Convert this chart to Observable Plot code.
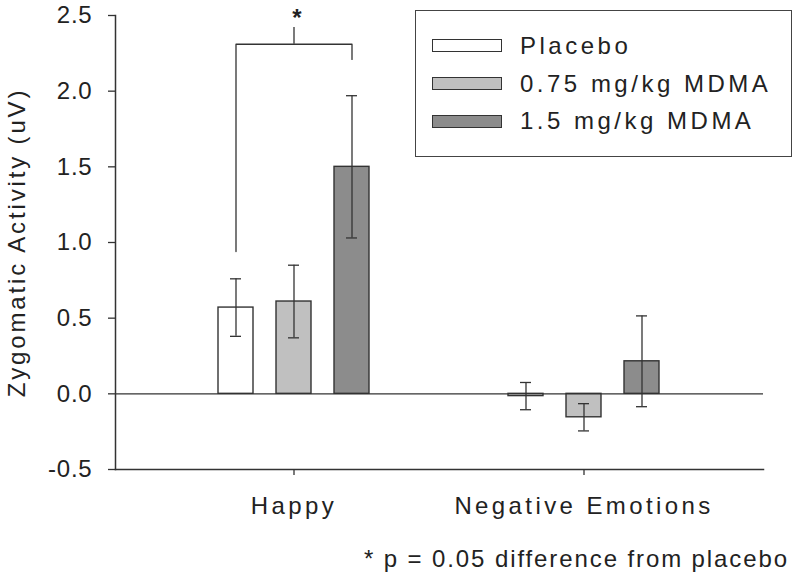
<!DOCTYPE html>
<html>
<head>
<meta charset="utf-8">
<script src="https://cdn.jsdelivr.net/npm/d3@7"></script>
<script src="https://cdn.jsdelivr.net/npm/@observablehq/plot@0.6"></script>
<style>
  body { margin: 0; background: #fff; }
  #wrap { position: relative; width: 800px; height: 584px; font-family: "Liberation Sans", Arial, sans-serif; color: #222; }
  #chart svg { display: block; }
  #chart g[aria-label="y-axis tick label"] text { letter-spacing: 0.8px; }
  #chart g[aria-label="x-axis tick label"] text { letter-spacing: 3.4px; }
  #chart g[aria-label="y-axis label"] text { letter-spacing: 2.85px; }
  #legend { position: absolute; left: 415px; top: 10px; width: 377px; height: 147px; box-sizing: border-box; border: 1.5px solid #444; background: #fff; }
  .row { position: absolute; left: 0; height: 30px; display: flex; align-items: center; font-size: 24px; letter-spacing: 3.5px; }
  .sw { width: 70px; height: 13px; box-sizing: border-box; border: 1.3px solid #333; margin-left: 16px; margin-right: 18px; }
  #caption { position: absolute; right: 11px; top: 547px; font-size: 24px; line-height: 24px; letter-spacing: 1.9px; white-space: nowrap; }
</style>
</head>
<body>
<div id="wrap">
  <div id="chart"></div>
  <div id="legend"></div>
  <div id="caption"></div>
</div>
<script>
// ---- data ----
const groups = ["Happy", "Negative Emotions"];
const series = ["Placebo", "0.75 mg/kg MDMA", "1.5 mg/kg MDMA"];
const seriesColors = ["#ffffff", "#c0c0c0", "#8c8c8c"];
const happyMeans = [0.57, 0.61, 1.50];
const happyErrors = [0.19, 0.24, 0.47];
const negativeMeans = [-0.015, -0.155, 0.215];
const negativeErrors = [0.09, 0.09, 0.30];
const yTicks = [-0.5, 0.0, 0.5, 1.0, 1.5, 2.0, 2.5];
const yLabel = "Zygomatic Activity (uV)";
// significance bracket (Happy: Placebo vs 1.5 mg/kg)
const bracketLevel = 2.31;
const bracketLeftEnd = 0.94;
const bracketRightEnd = 2.21;
const bracketTickTop = 2.42;
const starLevel = 2.48;
const captionText = "* p = 0.05 difference from placebo";

// ---- build table ----
const meansByGroup = [happyMeans, negativeMeans];
const errorsByGroup = [happyErrors, negativeErrors];
const keyOf = (g, s) => g + " | " + s;
const rows = groups.flatMap((g, gi) => series.map((s, si) => ({
  group: g, series: s, key: keyOf(g, s),
  mean: meansByGroup[gi][si], err: errorsByGroup[gi][si]
})));
// x domain: the bars of each group, with two empty slots between groups
const xDomain = groups.flatMap((g, gi) => [
  ...(gi ? ["(gap a)", "(gap b)"] : []),
  ...series.map(s => keyOf(g, s))
]);
const groupTicks = groups.map(g => keyOf(g, series[1]));
const groupOfKey = new Map(groupTicks.map((k, i) => [k, groups[i]]));

const bracketPath = [
  {x: keyOf(groups[0], series[0]), y: bracketLeftEnd},
  {x: keyOf(groups[0], series[0]), y: bracketLevel},
  {x: keyOf(groups[0], series[2]), y: bracketLevel},
  {x: keyOf(groups[0], series[2]), y: bracketRightEnd}
];
const bracketMid = [{x: keyOf(groups[0], series[1]), y1: bracketLevel, y2: bracketTickTop, star: starLevel}];

const ink = "#333";

const chart = Plot.plot({
  width: 800,
  height: 530,
  marginTop: 15,
  marginBottom: 61,
  marginLeft: 115,
  marginRight: 37,
  style: {fontFamily: "'Liberation Sans', Arial, sans-serif", fontSize: "24px", color: "#222", background: "#fff", overflow: "visible"},
  x: {domain: xDomain, paddingInner: 0.39, paddingOuter: 1.6966, align: 0.5, axis: null},
  y: {domain: [-0.5, 2.5], axis: null},
  color: {domain: series, range: seriesColors},
  marks: [
    Plot.frame({anchor: "left", stroke: ink, strokeWidth: 1.5}),
    Plot.frame({anchor: "bottom", stroke: ink, strokeWidth: 1.5}),
    Plot.axisY({
      ticks: yTicks, tickSize: 7, tickPadding: 16, tickFormat: d => d.toFixed(1),
      stroke: ink, strokeWidth: 1.3, fontSize: 24,
      label: yLabel, labelAnchor: "center", labelOffset: 108, labelArrow: "none"
    }),
    Plot.axisX({
      ticks: groupTicks, tickSize: 6, tickPadding: 21, tickFormat: k => groupOfKey.get(k),
      stroke: ink, strokeWidth: 1.3, fontSize: 24, label: null
    }),
    Plot.barY(rows, {x: "key", y: "mean", fill: "series", stroke: ink, strokeWidth: 1.4}),
    Plot.ruleY([0], {stroke: ink, strokeWidth: 1.4}),
    Plot.ruleX(rows, {x: "key", y1: d => d.mean - d.err, y2: d => d.mean + d.err, stroke: ink, strokeWidth: 1.3}),
    Plot.tickY(rows, {x: "key", y: d => d.mean - d.err, insetLeft: 12, insetRight: 12, stroke: ink, strokeWidth: 1.3}),
    Plot.tickY(rows, {x: "key", y: d => d.mean + d.err, insetLeft: 12, insetRight: 12, stroke: ink, strokeWidth: 1.3}),
    Plot.line(bracketPath, {x: "x", y: "y", stroke: ink, strokeWidth: 1.3, curve: "linear"}),
    Plot.ruleX(bracketMid, {x: "x", y1: "y1", y2: "y2", stroke: ink, strokeWidth: 1.3}),
    Plot.text(bracketMid, {x: "x", y: "star", text: () => "*", fontSize: 24, fontWeight: "bold", fill: "#222", dx: 3})
  ]
});
document.getElementById("chart").appendChild(chart);

// legend (HTML overlay inside the plot area, as in the original)
const legend = document.getElementById("legend");
const rowTops = [19.5, 57.5, 95];
series.forEach((s, i) => {
  const row = document.createElement("div");
  row.className = "row";
  row.style.top = rowTops[i] + "px";
  const sw = document.createElement("div");
  sw.className = "sw";
  sw.style.background = seriesColors[i];
  const label = document.createElement("span");
  label.textContent = s;
  row.appendChild(sw);
  row.appendChild(label);
  legend.appendChild(row);
});
document.getElementById("caption").textContent = captionText;
</script>
</body>
</html>
